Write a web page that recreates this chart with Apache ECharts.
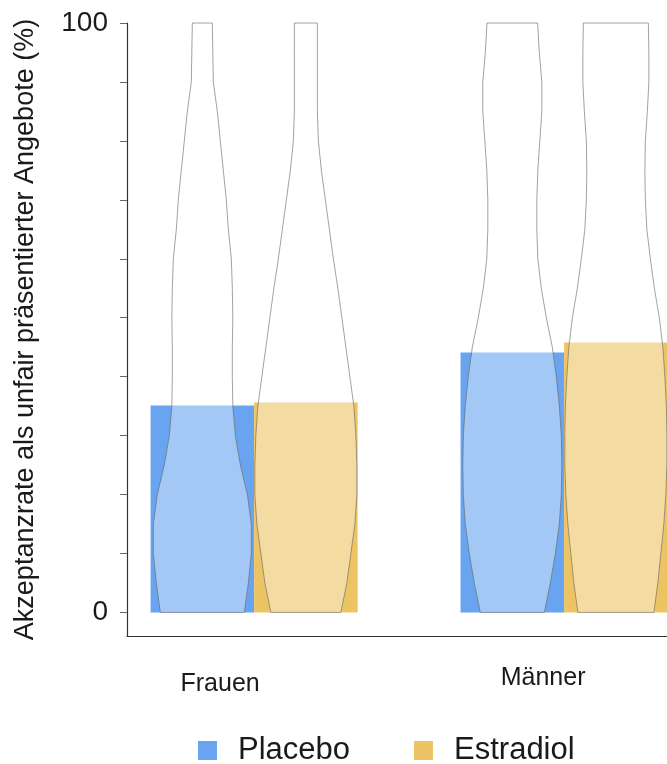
<!DOCTYPE html>
<html>
<head>
<meta charset="utf-8">
<script src="https://cdn.jsdelivr.net/npm/echarts@6/dist/echarts.min.js"></script>
<style>html,body{margin:0;padding:0;background:#fff}#c{width:667px;height:764px}</style>
</head>
<body>
<div id="c"></div>
<script>
// ---- data ----
const categories = ['Frauen', 'Männer'];
const groupPos = [1, 2];
const placeboValues = [35.1, 44.1];
const estradiolValues = [35.6, 45.8];
const yTickValues = [0, 10, 20, 30, 40, 50, 60, 70, 80, 90, 100];
const yLabelValues = [0, 100];
// violin density profiles (relative widths) at these levels
const violinLevels = [0, 5, 10, 15, 20, 25, 30, 35, 40, 45, 50, 55, 60, 65, 70, 75, 80, 85, 90, 95, 100];
const placeboDensity = [
  [42, 46, 49, 49, 45, 38, 33, 30.5, 30, 30, 30.5, 30, 29, 26, 24, 21, 18, 15, 11, 10.5, 10],
  [32, 38, 43, 47, 49, 49.5, 49, 47, 44, 40, 34, 29, 25.5, 24.5, 24.5, 25.5, 27.5, 29.5, 29.5, 27, 25.3]
];
const estradiolDensity = [
  [35, 41, 45, 49, 51, 51, 50, 48, 44, 40, 36, 32, 27.5, 23.5, 19.5, 15.5, 12.5, 11.5, 11.5, 11.5, 11.5],
  [38, 42, 45, 48, 50, 51, 51, 50.5, 49, 47, 43.5, 38.5, 34.5, 31, 29.5, 29, 29.5, 31.5, 33, 33, 32.5]
];

// ---- layout / style constants ----
const HALF = 0.167;          // half bar width in axis units
const DENS_SCALE = 1 / 310;  // density -> axis units
const FONT = '"Liberation Sans", Arial, Helvetica, sans-serif';
const C_PLACEBO = '#68a4ef';
const C_ESTRADIOL = '#edc463';

function barRender(offset) {
  return function (params, api) {
    const x = api.value(0), v = api.value(1);
    const p0 = api.coord([x + offset - HALF, 0]);
    const p1 = api.coord([x + offset + HALF, v]);
    return {
      type: 'rect',
      shape: { x: p0[0], y: p1[1], width: p1[0] - p0[0], height: p0[1] - p1[1] },
      style: { fill: api.visual('color') }
    };
  };
}
function violinRender(dens, offset) {
  return function (params, api) {
    const x = api.value(0) + offset;
    const d = dens[params.dataIndex];
    const unit = api.size([1, 0])[0];
    const left = [], right = [];
    for (let i = 0; i < violinLevels.length; i++) {
      const c = api.coord([x, violinLevels[i]]);
      const w = d[i] * DENS_SCALE * unit;
      left.push([c[0] - w, c[1]]);
      right.push([c[0] + w, c[1]]);
    }
    return {
      type: 'polygon',
      shape: { points: left.concat(right.reverse()) },
      style: { fill: 'rgba(255,255,255,0.4)', stroke: 'rgba(100,100,100,0.6)', lineWidth: 1 }
    };
  };
}

const chart = echarts.init(document.getElementById('c'));
chart.setOption({
  animation: false,
  backgroundColor: '#fff',
  grid: { left: 127, right: 0, top: 23, bottom: 128 },
  legend: {
    data: ['Placebo', 'Estradiol'],
    left: 193, top: 730,
    icon: 'rect', itemWidth: 19, itemHeight: 19, itemGap: 64,
    textStyle: { fontFamily: FONT, fontSize: 31, color: '#1a1a1a', padding: [0, 0, 0, 16] }
  },
  xAxis: {
    type: 'value', min: 0.59, max: 2.332,
    axisLine: { onZero: false, lineStyle: { color: '#333', width: 1.2 } },
    axisTick: { show: false },
    splitLine: { show: false },
    axisLabel: {
      customValues: groupPos,
      margin: 30,
      formatter: function (v) {
        const i = groupPos.indexOf(v);
        return i === 0 ? '{f|' + categories[0] + '}' : '{m|' + categories[1] + '}';
      },
      rich: {
        f: { fontFamily: FONT, fontSize: 25, color: '#1a1a1a', padding: [6, 68, 0, 0] },
        m: { fontFamily: FONT, fontSize: 25, color: '#1a1a1a', padding: [0, 42, 0, 0] }
      }
    }
  },
  yAxis: {
    type: 'value', min: -4, max: 100,
    name: 'Akzeptanzrate als unfair präsentierter Angebote (%)',
    nameLocation: 'middle', nameGap: 88,
    nameTextStyle: { fontFamily: FONT, fontSize: 27, color: '#1a1a1a' },
    axisLine: { show: true, lineStyle: { color: '#333', width: 1.2 } },
    axisTick: { show: true, customValues: yTickValues, length: 7, lineStyle: { color: '#666' } },
    splitLine: { show: false },
    axisLabel: { customValues: yLabelValues, margin: 19, fontFamily: FONT, fontSize: 28, color: '#1a1a1a' }
  },
  series: [
    { name: 'Placebo', type: 'custom', itemStyle: { color: C_PLACEBO },
      renderItem: barRender(-HALF), encode: { x: 0, y: 1 },
      data: groupPos.map((g, i) => [g, placeboValues[i]]) },
    { name: 'Estradiol', type: 'custom', itemStyle: { color: C_ESTRADIOL },
      renderItem: barRender(HALF), encode: { x: 0, y: 1 },
      data: groupPos.map((g, i) => [g, estradiolValues[i]]) },
    { name: 'Placebo Verteilung', type: 'custom', silent: true,
      renderItem: violinRender(placeboDensity, -HALF), encode: { x: 0, y: 1 },
      data: groupPos.map(g => [g, 100]) },
    { name: 'Estradiol Verteilung', type: 'custom', silent: true,
      renderItem: violinRender(estradiolDensity, HALF), encode: { x: 0, y: 1 },
      data: groupPos.map(g => [g, 100]) }
  ]
});
</script>
</body>
</html>
